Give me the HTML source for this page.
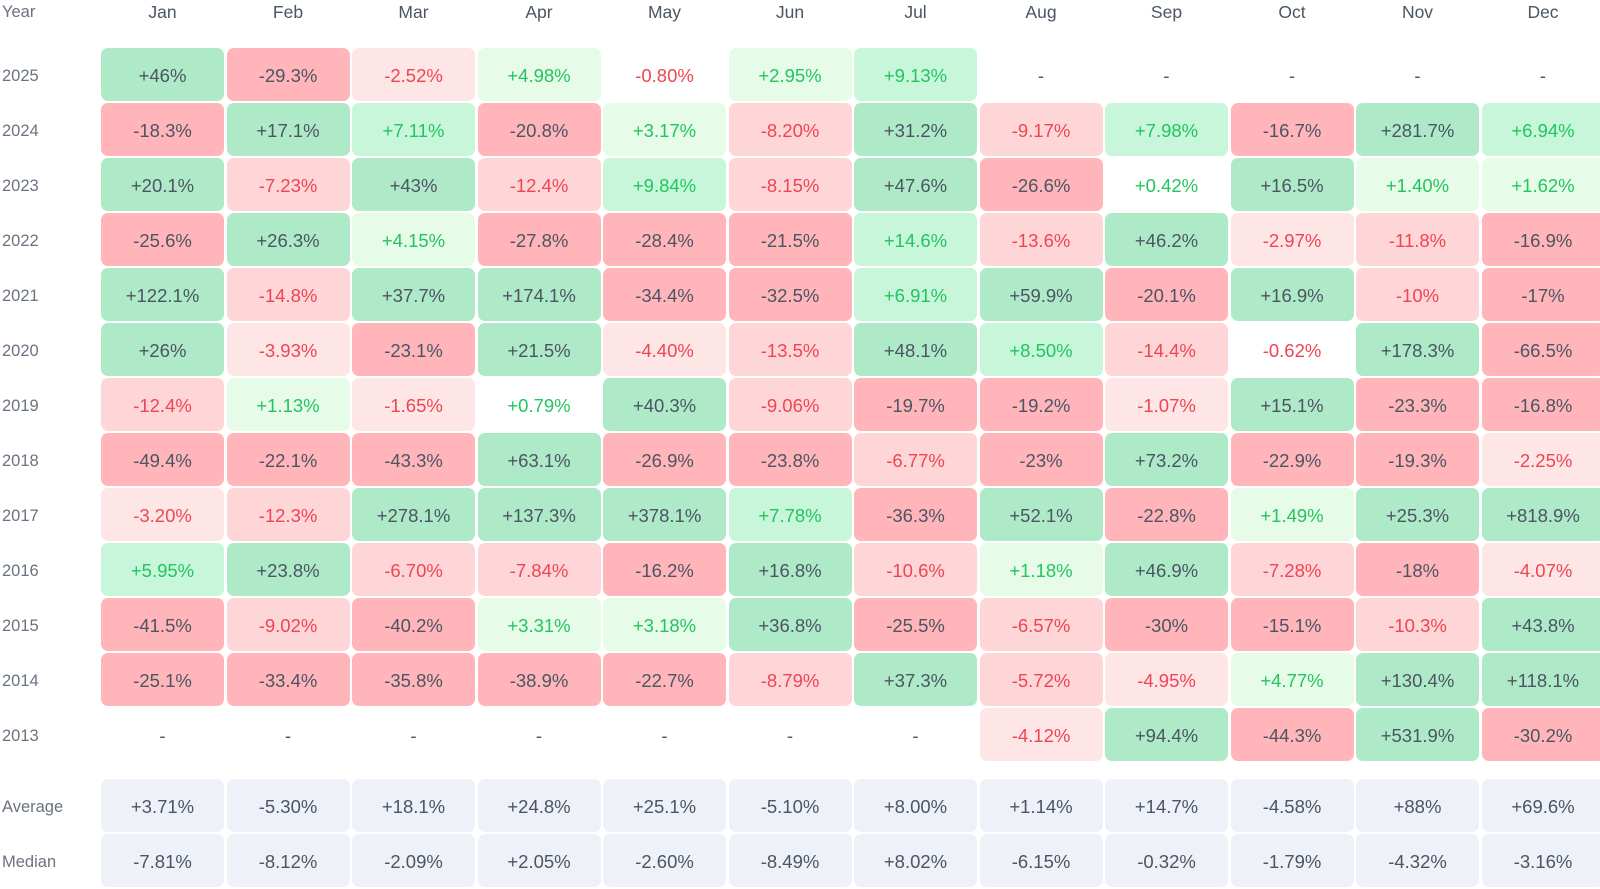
<!DOCTYPE html>
<html><head><meta charset="utf-8"><style>
body{margin:0;width:1600px;height:887px;background:#fff;font-family:"Liberation Sans",sans-serif;position:relative;overflow:hidden}
.hdr{position:absolute;top:0;left:101px;display:grid;grid-template-columns:repeat(12,123px);column-gap:2.5px;height:24px;line-height:24px;font-size:17.5px;color:#4b5563;text-align:center}
.lbl{position:absolute;left:2px;font-size:16.5px;color:#6b7280}
.grid{position:absolute;left:101px;display:grid;grid-template-columns:repeat(12,123px);column-gap:2.5px;row-gap:2px;grid-auto-rows:53px}
.grid div{border-radius:7px;text-align:center;line-height:55px;font-size:18.5px;color:#4b5563}
.g3{background:#aee9c8}.r3{background:#ffb5b9}
.g2{background:#c8f6da;color:#22c55e!important}.g1{background:#e6fce9;color:#22c55e!important}
.r2{background:#ffd6d8;color:#ef4452!important}.r1{background:#ffe6e6;color:#ef4452!important}
.w{color:#ef4452!important}.wg{color:#22c55e!important}
.s{background:#eef2f8}
</style></head><body>
<div class="lbl" style="top:0;line-height:24px">Year</div>
<div class="hdr"><div>Jan</div><div>Feb</div><div>Mar</div><div>Apr</div><div>May</div><div>Jun</div><div>Jul</div><div>Aug</div><div>Sep</div><div>Oct</div><div>Nov</div><div>Dec</div></div>
<div class="lbl" style="top:67px">2025</div>
<div class="lbl" style="top:122px">2024</div>
<div class="lbl" style="top:177px">2023</div>
<div class="lbl" style="top:232px">2022</div>
<div class="lbl" style="top:287px">2021</div>
<div class="lbl" style="top:342px">2020</div>
<div class="lbl" style="top:397px">2019</div>
<div class="lbl" style="top:452px">2018</div>
<div class="lbl" style="top:507px">2017</div>
<div class="lbl" style="top:562px">2016</div>
<div class="lbl" style="top:617px">2015</div>
<div class="lbl" style="top:672px">2014</div>
<div class="lbl" style="top:727px">2013</div>
<div class="lbl" style="top:798px">Average</div>
<div class="lbl" style="top:853px">Median</div>
<div class="grid" style="top:48px">
<div class="g3">+46%</div><div class="r3">-29.3%</div><div class="r1">-2.52%</div><div class="g1">+4.98%</div><div class="w">-0.80%</div><div class="g1">+2.95%</div><div class="g2">+9.13%</div><div>-</div><div>-</div><div>-</div><div>-</div><div>-</div>
<div class="r3">-18.3%</div><div class="g3">+17.1%</div><div class="g2">+7.11%</div><div class="r3">-20.8%</div><div class="g1">+3.17%</div><div class="r2">-8.20%</div><div class="g3">+31.2%</div><div class="r2">-9.17%</div><div class="g2">+7.98%</div><div class="r3">-16.7%</div><div class="g3">+281.7%</div><div class="g2">+6.94%</div>
<div class="g3">+20.1%</div><div class="r2">-7.23%</div><div class="g3">+43%</div><div class="r2">-12.4%</div><div class="g2">+9.84%</div><div class="r2">-8.15%</div><div class="g3">+47.6%</div><div class="r3">-26.6%</div><div class="wg">+0.42%</div><div class="g3">+16.5%</div><div class="g1">+1.40%</div><div class="g1">+1.62%</div>
<div class="r3">-25.6%</div><div class="g3">+26.3%</div><div class="g1">+4.15%</div><div class="r3">-27.8%</div><div class="r3">-28.4%</div><div class="r3">-21.5%</div><div class="g2">+14.6%</div><div class="r2">-13.6%</div><div class="g3">+46.2%</div><div class="r1">-2.97%</div><div class="r2">-11.8%</div><div class="r3">-16.9%</div>
<div class="g3">+122.1%</div><div class="r2">-14.8%</div><div class="g3">+37.7%</div><div class="g3">+174.1%</div><div class="r3">-34.4%</div><div class="r3">-32.5%</div><div class="g2">+6.91%</div><div class="g3">+59.9%</div><div class="r3">-20.1%</div><div class="g3">+16.9%</div><div class="r2">-10%</div><div class="r3">-17%</div>
<div class="g3">+26%</div><div class="r1">-3.93%</div><div class="r3">-23.1%</div><div class="g3">+21.5%</div><div class="r1">-4.40%</div><div class="r2">-13.5%</div><div class="g3">+48.1%</div><div class="g2">+8.50%</div><div class="r2">-14.4%</div><div class="w">-0.62%</div><div class="g3">+178.3%</div><div class="r3">-66.5%</div>
<div class="r2">-12.4%</div><div class="g1">+1.13%</div><div class="r1">-1.65%</div><div class="wg">+0.79%</div><div class="g3">+40.3%</div><div class="r2">-9.06%</div><div class="r3">-19.7%</div><div class="r3">-19.2%</div><div class="r1">-1.07%</div><div class="g3">+15.1%</div><div class="r3">-23.3%</div><div class="r3">-16.8%</div>
<div class="r3">-49.4%</div><div class="r3">-22.1%</div><div class="r3">-43.3%</div><div class="g3">+63.1%</div><div class="r3">-26.9%</div><div class="r3">-23.8%</div><div class="r2">-6.77%</div><div class="r3">-23%</div><div class="g3">+73.2%</div><div class="r3">-22.9%</div><div class="r3">-19.3%</div><div class="r1">-2.25%</div>
<div class="r1">-3.20%</div><div class="r2">-12.3%</div><div class="g3">+278.1%</div><div class="g3">+137.3%</div><div class="g3">+378.1%</div><div class="g2">+7.78%</div><div class="r3">-36.3%</div><div class="g3">+52.1%</div><div class="r3">-22.8%</div><div class="g1">+1.49%</div><div class="g3">+25.3%</div><div class="g3">+818.9%</div>
<div class="g2">+5.95%</div><div class="g3">+23.8%</div><div class="r2">-6.70%</div><div class="r2">-7.84%</div><div class="r3">-16.2%</div><div class="g3">+16.8%</div><div class="r2">-10.6%</div><div class="g1">+1.18%</div><div class="g3">+46.9%</div><div class="r2">-7.28%</div><div class="r3">-18%</div><div class="r1">-4.07%</div>
<div class="r3">-41.5%</div><div class="r2">-9.02%</div><div class="r3">-40.2%</div><div class="g1">+3.31%</div><div class="g1">+3.18%</div><div class="g3">+36.8%</div><div class="r3">-25.5%</div><div class="r2">-6.57%</div><div class="r3">-30%</div><div class="r3">-15.1%</div><div class="r2">-10.3%</div><div class="g3">+43.8%</div>
<div class="r3">-25.1%</div><div class="r3">-33.4%</div><div class="r3">-35.8%</div><div class="r3">-38.9%</div><div class="r3">-22.7%</div><div class="r2">-8.79%</div><div class="g3">+37.3%</div><div class="r2">-5.72%</div><div class="r1">-4.95%</div><div class="g1">+4.77%</div><div class="g3">+130.4%</div><div class="g3">+118.1%</div>
<div>-</div><div>-</div><div>-</div><div>-</div><div>-</div><div>-</div><div>-</div><div class="r1">-4.12%</div><div class="g3">+94.4%</div><div class="r3">-44.3%</div><div class="g3">+531.9%</div><div class="r3">-30.2%</div>
</div>
<div class="grid" style="top:779px">
<div class="s">+3.71%</div><div class="s">-5.30%</div><div class="s">+18.1%</div><div class="s">+24.8%</div><div class="s">+25.1%</div><div class="s">-5.10%</div><div class="s">+8.00%</div><div class="s">+1.14%</div><div class="s">+14.7%</div><div class="s">-4.58%</div><div class="s">+88%</div><div class="s">+69.6%</div>
<div class="s">-7.81%</div><div class="s">-8.12%</div><div class="s">-2.09%</div><div class="s">+2.05%</div><div class="s">-2.60%</div><div class="s">-8.49%</div><div class="s">+8.02%</div><div class="s">-6.15%</div><div class="s">-0.32%</div><div class="s">-1.79%</div><div class="s">-4.32%</div><div class="s">-3.16%</div>
</div>
</body></html>
